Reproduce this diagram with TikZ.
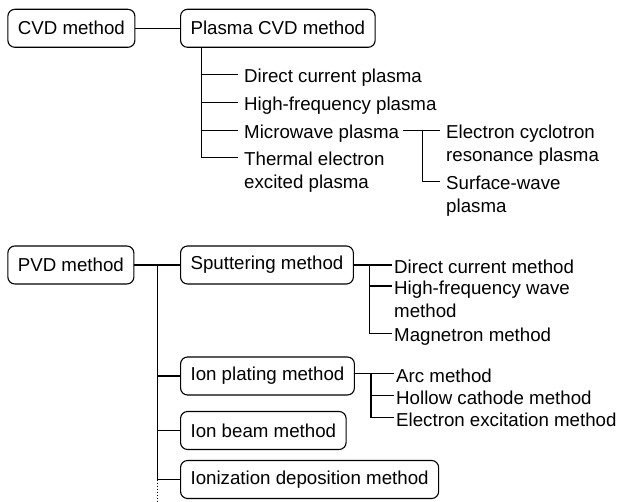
\documentclass[tikz,border=0pt]{standalone}
\usepackage{fontspec}
\setmainfont{Liberation Sans}
\usetikzlibrary{calc}
\begin{document}
\begin{tikzpicture}[x=1pt,y=-1pt,
  every node/.style={font=\fontsize{18.7}{23}\selectfont},
  box/.style={draw, rounded corners=7pt, line width=1.1pt, minimum height=38pt,
              inner xsep=10pt, inner ysep=0pt, anchor=west},
  lbl/.style={anchor=base west, inner sep=0pt, align=left},
  link/.style={line width=1.1pt},
  more/.style={line width=1.1pt, dash pattern=on 1.6pt off 1.4pt}]
\useasboundingbox (0,0) rectangle (621,502);

% ---- CVD family ----
\node[box] (cvd)  at (7.3,28.3) {CVD method};
\node[box] (pcvd) at (180,28.3) {Plasma CVD method};
\node[lbl] (dcp) at (244,82.7) {Direct current plasma};
\node[lbl] (hfp) at (244,111) {High-frequency plasma};
\node[lbl] (mwp) at (244,139) {Microwave plasma};
% two-line labels are placed by the baseline of their last line
\node[lbl] (tep) at (244,189) {Thermal electron\\excited plasma};
\node[lbl] (ecr) at (446,162) {Electron cyclotron\\resonance plasma};
\node[lbl] (swp) at (446,213) {Surface-wave\\plasma};

% ---- PVD family ----
\node[box] (pvd)  at (7.3,265) {PVD method};
\node[box] (sput) at (180,265) {Sputtering method};
\node[box] (ionp) at (180,376) {Ion plating method};
\node[box] (ionb) at (180,430.5) {Ion beam method};
\node[box] (ionz) at (180,479.5) {Ionization deposition method};
\node[lbl] (dcm) at (394,273.5) {Direct current method};
\node[lbl] (hfw) at (394,317.5) {High-frequency wave\\method};
\node[lbl] (mag) at (394,342) {Magnetron method};
\node[lbl] (arc) at (396,382) {Arc method};
\node[lbl] (hol) at (396,404) {Hollow cathode method};
\node[lbl] (eem) at (396,426) {Electron excitation method};

% entry points of the branch lines, level with the first text line
\foreach \n in {dcp,hfp,mwp}
  \coordinate (\n-in) at ($(\n.base west)+(-6,-8.5)$);
\foreach \n in {tep,ecr,swp}
  \coordinate (\n-in) at ($(\n.base west)+(-6,-31.5)$);
\foreach \n in {dcm,mag,arc,hol,eem}
  \coordinate (\n-in) at ($(\n.base west)+(-2.5,-8.5)$);
\coordinate (hfw-in) at ($(hfw.base west)+(-2.5,-31.5)$);
\coordinate (mwp-out) at ($(mwp.base east)+(4,-8.5)$);

% x positions of the vertical trunks
\coordinate (cj) at (201.7,0);
\coordinate (mj) at (422.7,0);
\coordinate (pj) at (157.7,0);
\coordinate (sj) at (369.3,0);
\coordinate (ij) at (371,0);
\coordinate (edge) at (0,502);

% ---- CVD connectors ----
\draw[link] (cvd) -- (pcvd);
\draw[link] (cj |- pcvd.south) |- (tep-in);
\foreach \n in {dcp,hfp,mwp}
  \draw[link] (cj |- \n-in) -- (\n-in);
\draw[link] (mwp-out) -- (ecr-in);
\draw[link] (mj |- ecr-in) |- (swp-in);

% ---- PVD connectors ----
\draw[link] (pvd) -- (sput);
\draw[link] (pj |- pvd.east) -- (pj |- ionz.west);
\foreach \n in {ionp,ionb,ionz}
  \draw[link] (pj |- \n.west) -- (\n.west);
\draw[more] (pj |- ionz.west) -- (pj |- edge);
\draw[link] (sput.east |- dcm-in) -- (dcm-in);
\draw[link] (sj |- dcm-in) |- (mag-in);
\draw[link] (sj |- hfw-in) -- (hfw-in);
\draw[link] (ionp.east |- arc-in) -- (arc-in);
\draw[link] (ij |- arc-in) |- (eem-in);
\draw[link] (ij |- hol-in) -- (hol-in);
\end{tikzpicture}
\end{document}
